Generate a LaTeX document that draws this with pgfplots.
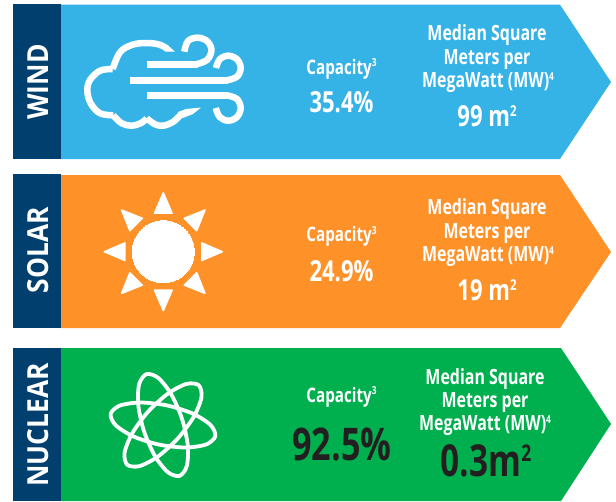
\documentclass[border=0pt]{standalone}
\usepackage{fontspec}
\setmainfont{Open Sans}
\newfontfamily\cond[FakeStretch=0.76]{Open Sans}
\newfontfamily\sidef[FakeStretch=0.91]{Open Sans}
\usepackage{pgfplots}
\pgfplotsset{compat=1.18}
\definecolor{navy}{HTML}{003F6E}
\definecolor{windc}{HTML}{36B3E6}
\definecolor{solarc}{HTML}{FF9129}
\definecolor{nuclc}{HTML}{00B04F}
\definecolor{ink}{HTML}{231F20}
% txt: x, baseline y, size, colour, text
\newcommand{\txt}[5]{\node[text=#4,inner sep=0pt,anchor=base,font=\cond\bfseries\fontsize{#3}{#3}\selectfont] at (axis cs:#1,#2) {#5};}
\newcommand{\side}[3]{\node[text=white,inner sep=0pt,rotate=90,anchor=center,font=\sidef\bfseries\fontsize{#3}{#3}\selectfont] at (axis cs:38.5,#1) {#2};}
\newcommand{\supa}[1]{\raisebox{7.5pt}{\fontsize{11}{11}\selectfont #1}}
\newcommand{\supb}{\raisebox{10pt}{\fontsize{15}{15}\selectfont 2}}
\begin{document}
\begin{tikzpicture}
\begin{axis}[
    scale only axis, width=616pt, height=501pt,
    xmin=0, xmax=616, ymin=0, ymax=501, y dir=reverse,
    hide axis,
    icon/.style={draw=white, line width=6.5pt, line cap=butt, line join=round, smooth, tension=0.6},
    ray/.style={fill=white, draw=white, line width=1.5pt, line join=round},
    atom/.style={draw=white, line width=3.8pt, smooth cycle},
  ]
  % full page, keeps the picture at its size
  \addplot[fill=white, draw=none] coordinates {(0,0) (616,0) (616,501) (0,501)} --cycle;
  % panels
  \addplot[fill=windc, draw=none] coordinates {(61,4.7) (560,4.7) (611,82) (560,159) (61,159)} --cycle;
  \addplot[fill=solarc, draw=none] coordinates {(61,175) (560,175) (611,252) (560,328) (61,328)} --cycle;
  \addplot[fill=nuclc, draw=none] coordinates {(61,348) (561,348) (611,424) (561,501) (61,501)} --cycle;
  \addplot[fill=navy, draw=none] coordinates {(13,4) (61,4) (61,159) (13,159)} --cycle;
  \addplot[fill=navy, draw=none] coordinates {(13,174) (61,174) (61,328) (13,328)} --cycle;
  \addplot[fill=navy, draw=none] coordinates {(13,348) (61,348) (61,501) (13,501)} --cycle;

  % wind icon
  \addplot[icon] coordinates {(166.7,48.3) (158.3,44.3) (145,43) (131.7,45) (120,52.3) (112.7,69)};
  \addplot[fill=white, draw=none] coordinates {(175,51.7) (167.5,45) (165,51.5)} --cycle;
  \addplot[icon] coordinates {(112.7,69) (100,70.7) (90,80) (87.3,90.7) (90.7,103.3) (100,113.3) (113.3,115.3)};
  \addplot[icon] coordinates {(113.3,115.3) (121.7,123.3) (131.7,125.7) (141.7,122.7) (146.7,118.3)};
  \addplot[icon] coordinates {(146.7,118.3) (155,124.3) (163.3,125.7) (173.3,121.7) (181,114.3)};
  \addplot[fill=white, draw=none] coordinates {(178,112) (186,109) (201,107.5) (193,114) (183,118)} --cycle;
  \addplot[draw=white, line width=6.5pt] coordinates {(147,64.3) (198,64.3)};
  \addplot[icon] coordinates {(196,64.3) (207,60) (211.5,50) (207,41) (197.5,37.7) (188,41) (184.3,51.7)};
  \addplot[draw=white, line width=6.5pt] coordinates {(130,80.3) (228,80.3)};
  \addplot[icon] coordinates {(227,80.3) (237,76.7) (240.7,68) (237,59.3) (228.3,55.7) (219.7,59.3) (216,68)};
  \addplot[draw=white, line width=6.5pt] coordinates {(147,95.3) (228,95.3)};
  \addplot[icon] coordinates {(227,95.3) (237,99) (240.7,108) (237,117) (228.3,120.7) (219.7,117) (215.8,108)};

  % sun icon
  \addplot[only marks, mark=*, mark size=31pt, mark options={fill=white, draw=white, line width=0pt}] coordinates {(163.3,251.7)};
  \addplot[ray] coordinates {(163.3,192.7) (154.5,213.2) (172.1,213.2)} --cycle;
  \addplot[ray] coordinates {(163.3,310.7) (154.5,290.2) (172.1,290.2)} --cycle;
  \addplot[ray] coordinates {(222.3,251.7) (201.8,242.9) (201.8,260.5)} --cycle;
  \addplot[ray] coordinates {(104.3,251.7) (124.8,242.9) (124.8,260.5)} --cycle;
  \addplot[ray] coordinates {(205.02,209.98) (196.74,230.7) (184.3,218.26)} --cycle;
  \addplot[ray] coordinates {(121.58,209.98) (142.3,218.26) (129.86,230.7)} --cycle;
  \addplot[ray] coordinates {(205.02,293.42) (196.74,272.7) (184.3,285.14)} --cycle;
  \addplot[ray] coordinates {(121.58,293.42) (129.86,272.7) (142.3,285.14)} --cycle;

  % atom icon
  \addplot[atom] coordinates {(215.33,436.12) (206.23,444.41) (185.56,447.50) (158.84,444.56) (133.24,436.38) (115.61,425.15) (110.67,413.88) (119.77,405.59) (140.44,402.50) (167.16,405.44) (192.76,413.62) (210.39,424.85)};
  \addplot[atom] coordinates {(179.53,475.88) (167.81,472.15) (154.80,455.79) (143.98,431.18) (138.26,404.91) (139.17,384.03) (146.47,374.12) (158.19,377.85) (171.20,394.21) (182.02,418.82) (187.74,445.09) (186.83,465.97)};
  \addplot[atom] coordinates {(127.21,464.75) (124.57,452.73) (132.23,433.29) (148.14,411.62) (168.03,393.53) (186.57,383.89) (198.79,385.25) (201.43,397.27) (193.77,416.71) (177.86,438.38) (157.97,456.47) (139.43,466.11)};

  % side labels
  \side{82}{WIND}{29}
  \side{250}{SOLAR}{29}
  \side{424.7}{NUCLEAR}{29}

  % wind text
  \txt{341.5}{74}{20}{white}{Capacity\supa{3}}
  \txt{341.5}{112.7}{29}{white}{35.4\%}
  \txt{487}{40}{21}{white}{Median Square}
  \txt{487}{64.5}{21}{white}{Meters per}
  \txt{488}{87.7}{21}{white}{MegaWatt (MW)\supa{4}}
  \txt{487}{126}{29}{white}{99 m\supb}

  % solar text
  \txt{341.5}{241.7}{20}{white}{Capacity\supa{3}}
  \txt{341.5}{281}{29}{white}{24.9\%}
  \txt{487}{214.3}{21}{white}{Median Square}
  \txt{487}{238.3}{21}{white}{Meters per}
  \txt{488}{261.7}{21}{white}{MegaWatt (MW)\supa{4}}
  \txt{487}{300}{29}{white}{19 m\supb}

  % nuclear text
  \txt{341.5}{402}{20}{white}{Capacity\supa{3}}
  \txt{342}{460}{45}{ink}{92.5\%}
  \txt{485}{384.3}{21}{white}{Median Square}
  \txt{485}{407.7}{21}{white}{Meters per}
  \txt{485}{430.7}{21}{white}{MegaWatt (MW)\supa{4}}
  \txt{486}{476.7}{44}{ink}{0.3m\raisebox{15pt}{\fontsize{23}{23}\selectfont 2}}
\end{axis}
\end{tikzpicture}
\end{document}
